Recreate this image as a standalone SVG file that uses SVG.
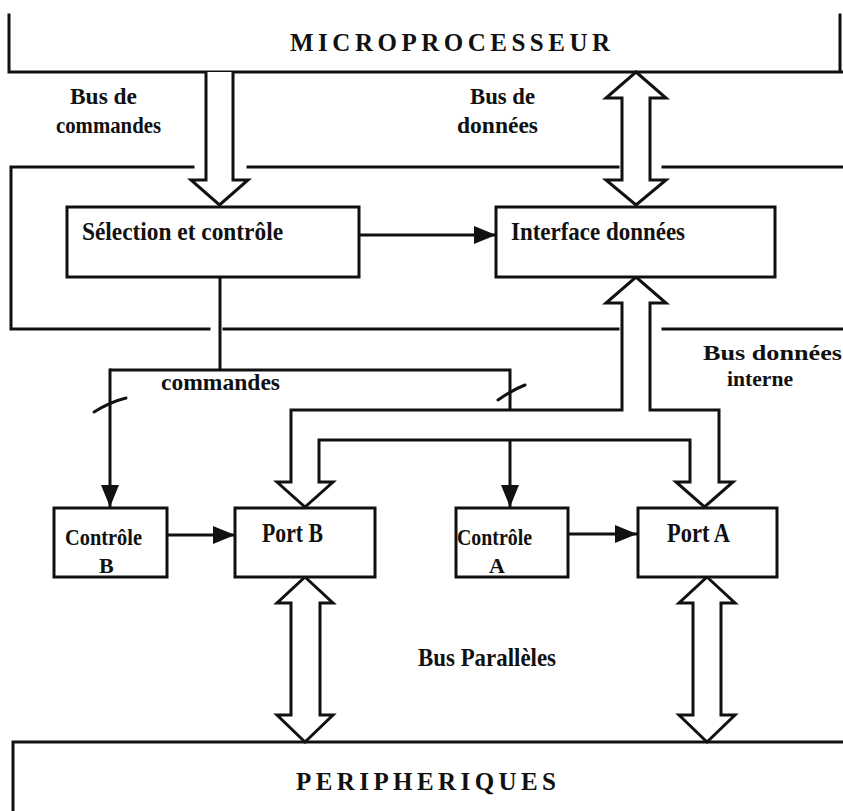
<svg xmlns="http://www.w3.org/2000/svg" width="843" height="811" viewBox="0 0 843 811">
  <style>
    .ln { stroke: #111; stroke-width: 3; fill: none; stroke-linecap: square; }
    .box { stroke: #111; stroke-width: 3; fill: #fff; }
    .bus { stroke: #111; stroke-width: 3; fill: #fff; stroke-linejoin: miter; }
    .wire { stroke: #111; stroke-width: 3; fill: none; }
    .lbl { font-family: "Liberation Serif", "Times New Roman", serif; font-weight: bold; fill: #111; }
    .cap { font-family: "Liberation Serif", "Times New Roman", serif; font-weight: bold; fill: #111; }
  </style>
  <defs>
    <marker id="head" markerUnits="userSpaceOnUse" markerWidth="24" markerHeight="20" viewBox="0 0 24 20" refX="22" refY="10" orient="auto">
      <path d="M0,1 L22,10 L0,19 Z" fill="#111"/>
    </marker>
  </defs>
  <rect width="843" height="811" fill="#fff"/>

  <!-- microprocessor block (top) -->
  <g id="microprocesseur">
    <path class="ln" d="M9,15 V72 H843 M840,15 V72"/>
    <text class="cap" x="290" y="51" font-size="25" textLength="320" lengthAdjust="spacing">MICROPROCESSEUR</text>
  </g>

  <!-- enclosure of the interface circuit -->
  <g id="enclosure">
    <path class="ln" d="M193,167 H11 V329 H209 M248,167 H618 M663,167 H843 M224,329 H618 M663,329 H843"/>
  </g>

  <!-- peripherals block (bottom) -->
  <g id="peripheriques">
    <path class="ln" d="M13,811 V742 H843"/>
    <text class="cap" x="296" y="790" font-size="25" textLength="260" lengthAdjust="spacing">PERIPHERIQUES</text>
  </g>

  <!-- connectors -->
  <g id="connectors">
    <!-- control bus from the microprocessor -->
    <path class="bus" d="M206,72 V180 H191 L219.5,205 L248,180 H233 V72"/>
    <!-- bidirectional data bus -->
    <path class="bus" d="M636,72 L666,98 H650 V180 H666 L636,205 L606,180 H622 V98 H606 Z"/>
    <!-- internal data bus to both ports -->
    <path class="bus" d="M622,303 V410 H291 V482 H277 L305,507 L333,482 H319 V440 H690 V482 H676 L704.5,507 L733,482 H719 V410 H650 V303 H666 L636,277 L606,303 Z"/>
    <!-- parallel buses to the peripherals -->
    <path class="bus" d="M305,577 L333,603 H320 V715 H333 L305,742 L277,715 H291 V603 H277 Z"/>
    <path class="bus" d="M707,577 L735,603 H721 V715 H735 L707,742 L679,715 H693 V603 H679 Z"/>

    <!-- selection to data interface -->
    <line class="wire" x1="359" y1="235" x2="496" y2="235" marker-end="url(#head)"/>
    <!-- command lines -->
    <path class="wire" d="M220,277 V370 M110,370 H510 V410"/>
    <line class="wire" x1="110" y1="368.5" x2="110" y2="507" marker-end="url(#head)"/>
    <line class="wire" x1="510" y1="440" x2="510" y2="507" marker-end="url(#head)"/>
    <!-- bus-width slashes -->
    <path class="wire" stroke-linecap="round" d="M94,412 Q110,402 126,398"/>
    <path class="wire" stroke-linecap="round" d="M498,400 Q512,390 525,385"/>
    <!-- port controls -->
    <line class="wire" x1="167" y1="535" x2="235" y2="535" marker-end="url(#head)"/>
    <line class="wire" x1="568" y1="534" x2="637" y2="534" marker-end="url(#head)"/>
  </g>

  <!-- nodes -->
  <g id="selection">
    <rect class="box" x="67" y="207" width="292" height="70"/>
    <text class="lbl" x="82" y="240" font-size="26" textLength="201" lengthAdjust="spacingAndGlyphs">Sélection et contrôle</text>
  </g>
  <g id="interface">
    <rect class="box" x="496" y="207" width="279" height="70"/>
    <text class="lbl" x="511" y="240" font-size="26" textLength="174" lengthAdjust="spacingAndGlyphs">Interface données</text>
  </g>
  <g id="controle-b">
    <rect class="box" x="54" y="508" width="113" height="69"/>
    <text class="lbl" x="65" y="545" font-size="23" textLength="77" lengthAdjust="spacingAndGlyphs">Contrôle</text>
    <text class="lbl" x="99" y="573" font-size="22">B</text>
  </g>
  <g id="port-b">
    <rect class="box" x="235" y="508" width="140" height="69"/>
    <text class="lbl" x="262" y="542" font-size="27" textLength="61" lengthAdjust="spacingAndGlyphs">Port B</text>
  </g>
  <g id="controle-a">
    <rect class="box" x="456" y="508" width="112" height="69"/>
    <text class="lbl" x="457" y="545" font-size="23" textLength="75" lengthAdjust="spacingAndGlyphs">Contrôle</text>
    <text class="lbl" x="489" y="573" font-size="22">A</text>
  </g>
  <g id="port-a">
    <rect class="box" x="638" y="508" width="139" height="69"/>
    <text class="lbl" x="667" y="542" font-size="27" textLength="63" lengthAdjust="spacingAndGlyphs">Port A</text>
  </g>

  <!-- bus labels -->
  <g id="labels">
    <text class="lbl" x="70" y="104" font-size="23" textLength="67" lengthAdjust="spacingAndGlyphs">Bus de</text>
    <text class="lbl" x="56" y="133" font-size="23" textLength="105" lengthAdjust="spacingAndGlyphs">commandes</text>
    <text class="lbl" x="470" y="104" font-size="23" textLength="65" lengthAdjust="spacingAndGlyphs">Bus de</text>
    <text class="lbl" x="457" y="133" font-size="23" textLength="81" lengthAdjust="spacingAndGlyphs">données</text>
    <text class="lbl" x="161" y="390" font-size="24" textLength="119" lengthAdjust="spacingAndGlyphs">commandes</text>
    <text class="lbl" x="703" y="360" font-size="22" textLength="139" lengthAdjust="spacingAndGlyphs">Bus  données</text>
    <text class="lbl" x="727" y="386" font-size="22" textLength="66" lengthAdjust="spacingAndGlyphs">interne</text>
    <text class="lbl" x="418" y="666" font-size="26" textLength="138" lengthAdjust="spacingAndGlyphs">Bus Parallèles</text>
  </g>
</svg>
